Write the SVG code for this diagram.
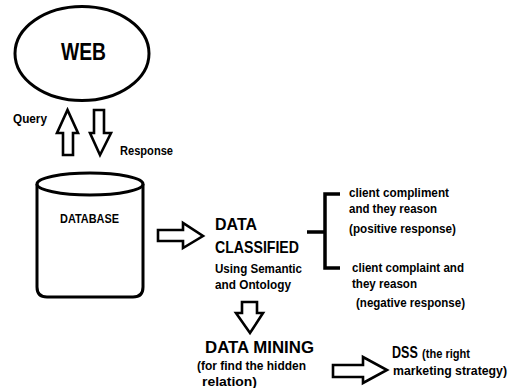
<svg xmlns="http://www.w3.org/2000/svg" width="512" height="388" viewBox="0 0 512 388">
<style>
.shape{fill:#fff;stroke:#000;stroke-width:3;stroke-linejoin:miter}
.arr{fill:#fff;stroke:#000;stroke-width:2.6;stroke-linejoin:miter}
.line{fill:none;stroke:#000;stroke-width:3.5}
text{font-family:"Liberation Sans",Arial,sans-serif;font-weight:bold;fill:#000}
.s{font-size:12.5px}
.m{font-size:16.5px}
.l{font-size:23px}
</style>
<rect width="512" height="388" fill="#fff"/>
<g id="web">
<ellipse class="shape" cx="82" cy="53.5" rx="67" ry="47"/>
<text class="l" x="61" y="60" textLength="45" lengthAdjust="spacingAndGlyphs">WEB</text>
</g>
<g id="database">
<path class="shape" d="M37,184 L37,287 Q37,297 47,297 L133,297 Q143,297 143,287 L143,184"/>
<ellipse class="shape" cx="90" cy="184" rx="53" ry="11"/>
<text class="s" x="60" y="223" textLength="59" lengthAdjust="spacingAndGlyphs">DATABASE</text>
</g>
<g id="classified">
<text class="m" x="215" y="230" textLength="42" lengthAdjust="spacingAndGlyphs">DATA</text>
<text class="m" x="215" y="253" textLength="84" lengthAdjust="spacingAndGlyphs">CLASSIFIED</text>
<text class="s" x="215" y="273" textLength="87" lengthAdjust="spacingAndGlyphs">Using Semantic</text>
<text class="s" x="215" y="289" textLength="76" lengthAdjust="spacingAndGlyphs">and Ontology</text>
</g>
<g id="positive">
<text class="s" x="349" y="197" textLength="100" lengthAdjust="spacingAndGlyphs">client compliment</text>
<text class="s" x="349" y="213" textLength="88" lengthAdjust="spacingAndGlyphs">and they reason</text>
<text class="s" x="349" y="233" textLength="107" lengthAdjust="spacingAndGlyphs">(positive response)</text>
</g>
<g id="negative">
<text class="s" x="352" y="272" textLength="112" lengthAdjust="spacingAndGlyphs">client complaint and</text>
<text class="s" x="352" y="288" textLength="65" lengthAdjust="spacingAndGlyphs">they reason</text>
<text class="s" x="356" y="307" textLength="109" lengthAdjust="spacingAndGlyphs">(negative response)</text>
</g>
<g id="mining">
<text class="m" x="205" y="353" textLength="109" lengthAdjust="spacingAndGlyphs">DATA MINING</text>
<text class="s" x="197" y="370" textLength="109" lengthAdjust="spacingAndGlyphs">(for find the hidden</text>
<text class="s" x="202" y="386" textLength="55" lengthAdjust="spacingAndGlyphs">relation)</text>
</g>
<g id="dss">
<text class="m" transform="translate(392,358) scale(0.76,1)" x="0" y="0">DSS</text>
<text class="s" x="422" y="358" textLength="48" lengthAdjust="spacingAndGlyphs">(the right</text>
<text class="s" x="393" y="375" textLength="114" lengthAdjust="spacingAndGlyphs">marketing strategy)</text>
</g>
<g id="connectors">
<path class="arr" d="M63,155 L63,133 L57,133 L67.5,110 L78,133 L73,133 L73,155 Z"/>
<text class="s" x="13" y="123" textLength="34" lengthAdjust="spacingAndGlyphs">Query</text>
<path class="arr" d="M94,110 L94,133 L90,133 L100,155 L111,133 L104,133 L104,110 Z"/>
<text class="s" x="120" y="155" textLength="53" lengthAdjust="spacingAndGlyphs">Response</text>
<path class="arr" d="M158,230 L183,230 L183,223 L203,236 L183,248 L183,241 L158,241 Z"/>
<path class="line" d="M307,232 L325,232 M340,194 L325,194 L325,268 L340,268"/>
<path class="arr" d="M242,302 L242,313 L236,313 L250,333 L263,313 L257,313 L257,302 Z"/>
<path class="arr" d="M333,365 L363,365 L363,357 L387,370 L363,383 L363,377 L333,377 Z"/>
</g>
</svg>
